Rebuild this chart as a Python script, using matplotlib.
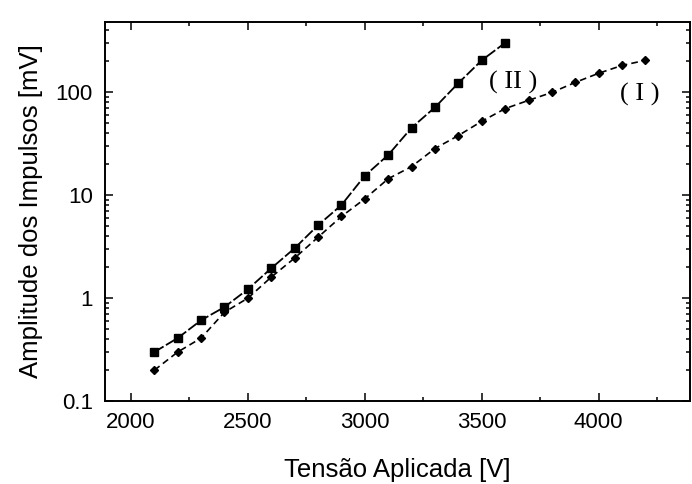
import matplotlib
matplotlib.use("Agg")
import matplotlib.pyplot as plt
from matplotlib.ticker import FixedLocator, LogLocator, MultipleLocator, NullFormatter, FixedFormatter

plt.rcParams["font.family"] = ["Liberation Sans", "DejaVu Sans"]

# series II (squares)
volts_2 = [2100, 2200, 2300, 2400, 2500, 2600, 2700, 2800, 2900, 3000,
           3100, 3200, 3300, 3400, 3500, 3600]
amp_2 = [0.30, 0.41, 0.61, 0.82, 1.22, 1.95, 3.05, 5.1, 8.0, 15.4,
         24.5, 45, 71, 122, 203, 300]

# series I (diamonds)
volts_1 = [2100, 2200, 2300, 2400, 2500, 2600, 2700, 2800, 2900, 3000,
           3100, 3200, 3300, 3400, 3500, 3600, 3700, 3800, 3900, 4000,
           4100, 4200]
amp_1 = [0.20, 0.30, 0.41, 0.73, 1.0, 1.6, 2.45, 3.9, 6.2, 9.2,
         14.4, 18.9, 28.3, 37.8, 52, 69, 83, 99, 124, 152,
         181, 203]

y_ticks = [0.1, 1, 10, 100]
y_ticklabels = ["0.1", "1", "10", "100"]

fig = plt.figure(figsize=(6.92, 4.84), dpi=100)
ax = fig.add_axes([0.152, 0.171, 0.845, 0.784])

ax.plot(volts_2, amp_2, color="black", lw=1.3, ls=(0, (6, 1.5)),
        marker="s", ms=6, mfc="black", mec="black")
ax.plot(volts_1, amp_1, color="black", lw=1.2, ls=(0, (4, 2.5)),
        marker="D", ms=4.5, mfc="black", mec="black")

ax.set_yscale("log")
ax.set_xlim(1890, 4390)
ax.set_ylim(0.1, 480)

ax.xaxis.set_major_locator(MultipleLocator(500))
ax.xaxis.set_minor_locator(MultipleLocator(250))
ax.yaxis.set_major_locator(FixedLocator(y_ticks))
ax.yaxis.set_major_formatter(FixedFormatter(y_ticklabels))
ax.yaxis.set_minor_locator(LogLocator(base=10, subs=range(2, 10)))
ax.yaxis.set_minor_formatter(NullFormatter())

ax.tick_params(which="both", direction="in", top=True, right=True,
               labelsize=16, width=1.1)
ax.tick_params(which="major", length=6)
ax.tick_params(which="minor", length=3)
ax.tick_params(axis="x", pad=8)
ax.tick_params(axis="y", pad=9)

for s in ax.spines.values():
    s.set_linewidth(1.4)

ax.set_xlabel("Tensão Aplicada [V]", fontsize=18.5, labelpad=18)
ax.set_ylabel("Amplitude dos Impulsos [mV]", fontsize=18.5, labelpad=9)

ax.text(3632, 124, "( II )", family="Liberation Serif", fontsize=19,
        ha="center", va="center")
ax.text(4175, 95, "( I )", family="Liberation Serif", fontsize=19,
        ha="center", va="center")

fig.savefig("out.png", dpi=100)
